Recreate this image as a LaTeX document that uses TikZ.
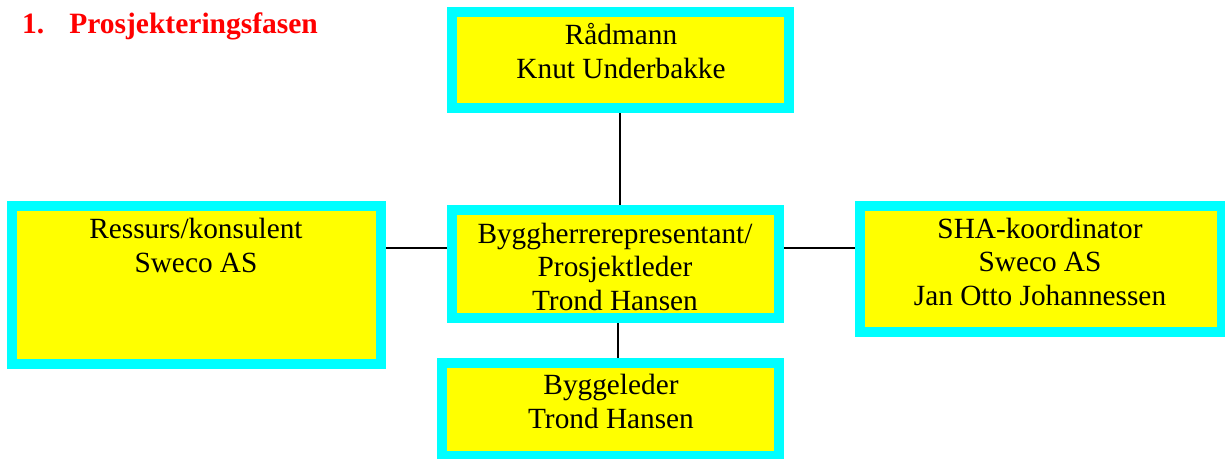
\documentclass[tikz,border=0pt]{standalone}
\usepackage{fontspec}
\setmainfont{Liberation Serif}
\definecolor{boxcyan}{RGB}{0,255,255}
\definecolor{boxyellow}{RGB}{255,255,0}
\definecolor{titlered}{RGB}{255,0,0}
\begin{document}
\begin{tikzpicture}[x=1pt,y=-1pt,
  orgbox/.style={draw=boxcyan, fill=boxyellow, line width=10pt, rectangle, inner sep=0pt, anchor=north west},
  boxtext/.style={align=center, inner sep=0pt, anchor=base, font=\fontsize{29.3}{33.3}\selectfont},
  conn/.style={draw=black, line width=1.5pt}]
\path[use as bounding box] (0,0) rectangle (1225,458);
% boxes (anchor at outer corner)
\node[orgbox, minimum width=337pt, minimum height=96pt] (top) at (447,7) {};
\node[orgbox, minimum width=327pt, minimum height=108pt] (center) at (447,205) {};
\node[orgbox, minimum width=369pt, minimum height=158pt] (left) at (7,201) {};
\node[orgbox, minimum width=337pt, minimum height=93pt] (bottom) at (437,358) {};
\node[orgbox, minimum width=362pt, minimum height=126pt] (right) at (855,201) {};
% texts (anchor = baseline of last line)
\node[boxtext] (toptext) at (621,78) {Rådmann\\Knut Underbakke};
\node[boxtext] (centertext) at (615,310) {Byggherrerepresentant/\\Prosjektleder\\Trond Hansen};
\node[boxtext] (lefttext) at (196,272) {Ressurs/konsulent\\Sweco AS};
\node[boxtext] (righttext) at (1040,305) {SHA-koordinator\\Sweco AS\\Jan Otto Johannessen};
\node[boxtext] (bottomtext) at (611,428) {Byggeleder\\Trond Hansen};
% title
\node[anchor=base west, inner sep=0pt, text=titlered, font=\fontsize{29.5}{33}\selectfont\bfseries] (title) at (22,33) {1.\hspace{25pt}Prosjekteringsfasen};
% connectors
\coordinate (vx1) at (620,0);
\coordinate (vx2) at (618,0);
\coordinate (hy) at (0,248);
\draw[conn] (top.south -| vx1) -- (center.north -| vx1);
\draw[conn] (center.south -| vx2) -- (bottom.north -| vx2);
\draw[conn] (left.east |- hy) -- (center.west |- hy);
\draw[conn] (center.east |- hy) -- (right.west |- hy);
\end{tikzpicture}
\end{document}
